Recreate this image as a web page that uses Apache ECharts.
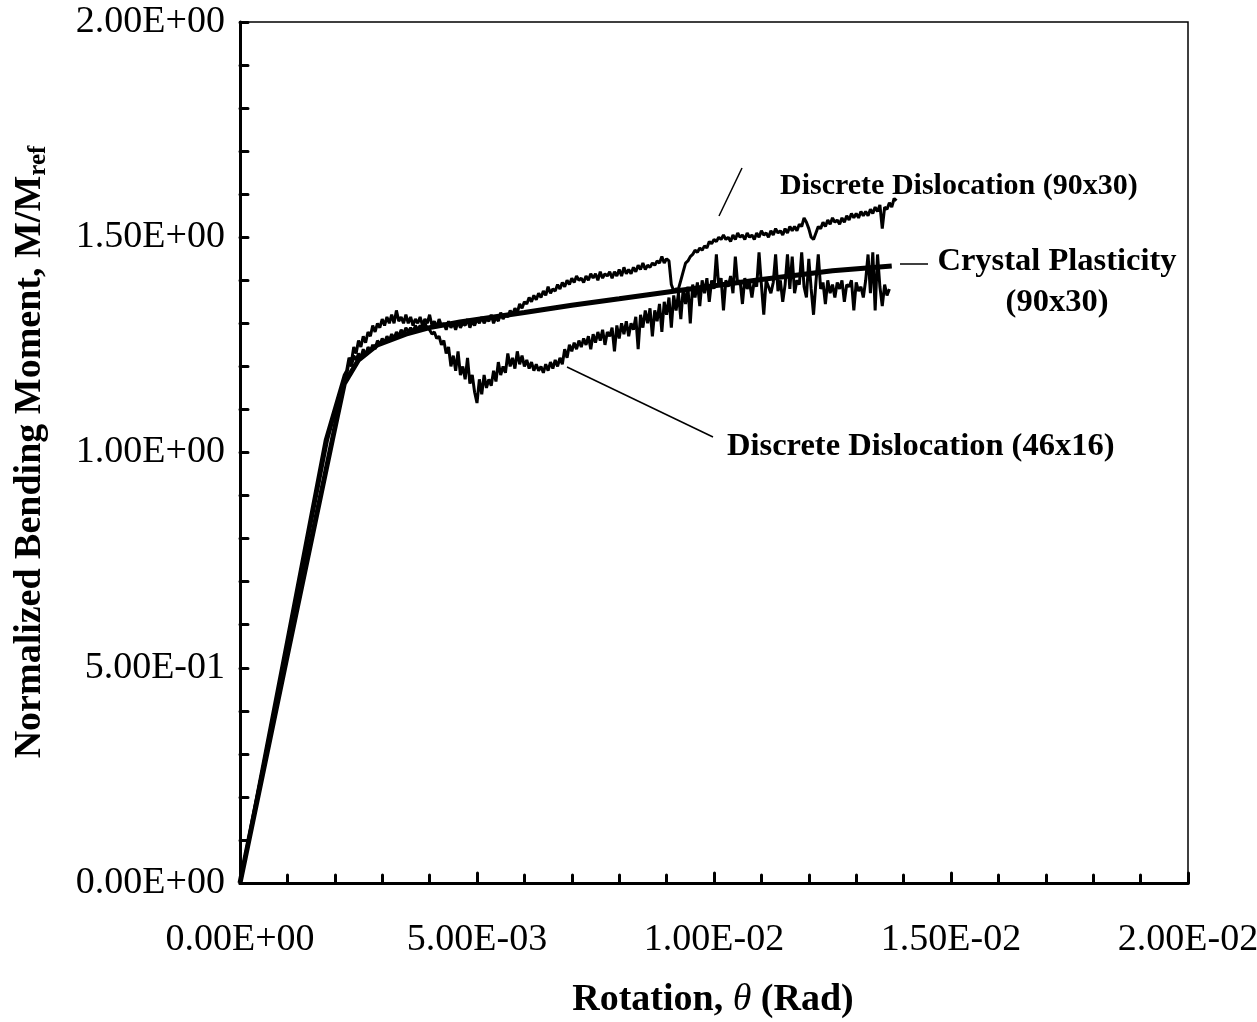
<!DOCTYPE html>
<html>
<head>
<meta charset="utf-8">
<script src="https://cdn.jsdelivr.net/npm/echarts@6/dist/echarts.min.js"></script>
<style>html,body{margin:0;padding:0;background:#fff}#c{width:1257px;height:1022px}</style>
</head>
<body>
<div id="c"></div>
<script>
// x values in mrad (1e-3 rad); axis labels show rad
const xTicks = [0, 5, 10, 15, 20];
const yTicks = [0, 0.5, 1.0, 1.5, 2.0];

// Crystal plasticity (90x30)
const cpTheta = [0, 1.0, 1.95, 2.2, 2.5, 2.9, 3.5, 4.0, 4.64, 6.0, 7.0, 8.0, 9.3, 11.0, 12.5, 13.75];
const cpMoment = [0, 0.53, 1.03, 1.16, 1.215, 1.25, 1.275, 1.29, 1.303, 1.325, 1.342, 1.357, 1.377, 1.402, 1.422, 1.433];

// elastic part of the two discrete dislocation runs
const dd90ElasticTheta = [0, 1.0, 1.8, 2.2];
const dd90ElasticMoment = [0, 0.57, 1.03, 1.18];
const dd46ElasticTheta = [0, 1.0, 1.85, 2.2];
const dd46ElasticMoment = [0, 0.555, 1.03, 1.17];

// sample positions for the noisy parts (mrad), step 0.05 from 2.25
const ddStart = 2.25, ddStep = 0.05;

// Discrete Dislocation (90x30)
const dd90 = [
1.19,1.22,1.21,1.245,1.23,1.26,1.245,1.27,1.255,1.28,
1.27,1.295,1.28,1.30,1.29,1.31,1.295,1.315,1.30,1.32,
1.30,1.33,1.305,1.315,1.30,1.32,1.30,1.315,1.295,1.31,
1.30,1.315,1.295,1.31,1.30,1.32,1.295,1.305,1.29,1.31,
1.295,1.30,1.285,1.305,1.29,1.30,1.285,1.305,1.29,1.30,
1.295,1.31,1.29,1.305,1.295,1.31,1.30,1.315,1.30,1.31,
1.305,1.32,1.30,1.315,1.305,1.325,1.31,1.32,1.315,1.33,
1.32,1.335,1.325,1.345,1.335,1.35,1.345,1.36,1.35,1.365,
1.355,1.37,1.36,1.375,1.365,1.385,1.37,1.38,1.375,1.39,
1.38,1.395,1.385,1.40,1.39,1.405,1.395,1.41,1.40,1.405,
1.395,1.41,1.40,1.415,1.405,1.415,1.40,1.42,1.405,1.415,
1.41,1.42,1.405,1.42,1.41,1.425,1.41,1.43,1.415,1.425,
1.415,1.43,1.42,1.435,1.425,1.44,1.425,1.435,1.43,1.44,
1.435,1.445,1.44,1.455,1.44,1.45,1.445,1.39,1.375,1.38,
1.38,1.40,1.42,1.44,1.445,1.455,1.46,1.47,1.465,1.475,
1.47,1.48,1.475,1.49,1.485,1.495,1.49,1.50,1.495,1.505,
1.495,1.50,1.49,1.505,1.495,1.51,1.50,1.505,1.495,1.51,
1.50,1.505,1.495,1.51,1.50,1.515,1.505,1.51,1.50,1.515,
1.505,1.52,1.51,1.515,1.505,1.52,1.51,1.525,1.515,1.525,
1.515,1.53,1.525,1.545,1.535,1.52,1.50,1.495,1.51,1.525,
1.52,1.535,1.525,1.54,1.53,1.545,1.535,1.54,1.53,1.545,
1.535,1.55,1.54,1.555,1.545,1.555,1.545,1.56,1.55,1.56,
1.55,1.565,1.555,1.57,1.56,1.575,1.52,1.57,1.565,1.58,
1.57,1.59,1.585
];

// Discrete Dislocation (46x16)
const dd46 = [
1.18,1.21,1.20,1.225,1.215,1.23,1.22,1.24,1.225,1.245,
1.235,1.25,1.24,1.26,1.25,1.265,1.255,1.27,1.26,1.275,
1.265,1.28,1.27,1.285,1.275,1.29,1.28,1.29,1.28,1.295,
1.285,1.295,1.285,1.30,1.29,1.285,1.275,1.28,1.265,1.27,
1.25,1.26,1.23,1.245,1.20,1.225,1.19,1.235,1.18,1.20,
1.17,1.22,1.16,1.18,1.14,1.115,1.17,1.135,1.18,1.15,
1.17,1.155,1.19,1.165,1.21,1.18,1.20,1.185,1.23,1.20,
1.22,1.195,1.235,1.205,1.225,1.20,1.215,1.195,1.21,1.19,
1.205,1.19,1.20,1.185,1.205,1.19,1.21,1.195,1.215,1.20,
1.22,1.205,1.24,1.22,1.25,1.235,1.255,1.24,1.26,1.245,
1.265,1.25,1.27,1.24,1.275,1.255,1.28,1.26,1.285,1.25,
1.28,1.27,1.29,1.235,1.295,1.265,1.30,1.275,1.305,1.27,
1.30,1.285,1.315,1.24,1.32,1.29,1.33,1.30,1.335,1.27,
1.33,1.305,1.345,1.28,1.35,1.32,1.36,1.29,1.365,1.33,
1.37,1.31,1.38,1.345,1.385,1.30,1.39,1.36,1.395,1.34,
1.40,1.37,1.405,1.35,1.40,1.38,1.46,1.385,1.405,1.33,
1.40,1.385,1.41,1.37,1.455,1.39,1.40,1.345,1.405,1.38,
1.395,1.36,1.40,1.385,1.465,1.39,1.32,1.40,1.385,1.37,
1.395,1.46,1.375,1.40,1.35,1.39,1.46,1.38,1.455,1.37,
1.40,1.39,1.465,1.385,1.36,1.45,1.38,1.32,1.395,1.46,
1.38,1.395,1.345,1.40,1.37,1.39,1.36,1.395,1.38,1.40,
1.35,1.39,1.385,1.40,1.33,1.395,1.375,1.385,1.36,1.40,
1.46,1.37,1.465,1.33,1.46,1.385,1.34,1.39,1.365,1.38
];

function pairs(xs, ys) { return xs.map((x, i) => [x, ys[i]]); }
function ddSeries(ex, ey, vals) {
  const pts = pairs(ex, ey);
  vals.forEach((v, i) => pts.push([+(ddStart + i * ddStep).toFixed(2), v]));
  return pts;
}
function sci(r) {
  if (Math.abs(r) < 1e-12) return '0.00E+00';
  let e = Math.floor(Math.log10(Math.abs(r)) + 1e-9);
  let m = r / Math.pow(10, e);
  return m.toFixed(2) + 'E' + (e < 0 ? '-' : '+') + String(Math.abs(e)).padStart(2, '0');
}

const FONT = '"Liberation Serif", "Times New Roman", serif';
const chart = echarts.init(document.getElementById('c'), null, {renderer: 'canvas'});
chart.setOption({
  animation: false,
  backgroundColor: '#fff',
  grid: {left: 240, top: 22, right: 69, bottom: 139, containLabel: false, outerBoundsMode: 'none',
         show: true, borderColor: '#000', borderWidth: 1.5},
  xAxis: {
    type: 'value', min: xTicks[0], max: xTicks[xTicks.length - 1], interval: 5,
    axisLine: {lineStyle: {color: '#000', width: 3}},
    axisTick: {inside: true, length: 10, lineStyle: {color: '#000', width: 3, cap: 'round'}},
    minorTick: {show: true, splitNumber: 5, length: 8, lineStyle: {color: '#000', width: 3, cap: 'round'}},
    splitLine: {show: false},
    axisLabel: {margin: 38, color: '#000', fontFamily: FONT, fontSize: 38, formatter: v => sci(v / 1000)}
  },
  yAxis: {
    type: 'value', min: yTicks[0], max: yTicks[yTicks.length - 1], interval: 0.5,
    axisLine: {lineStyle: {color: '#000', width: 3}},
    axisTick: {inside: true, length: 8, lineStyle: {color: '#000', width: 3, cap: 'round'}},
    minorTick: {show: true, splitNumber: 5, length: 8, lineStyle: {color: '#000', width: 3, cap: 'round'}},
    splitLine: {show: false},
    axisLabel: {margin: 15, color: '#000', fontFamily: FONT, fontSize: 38, formatter: v => sci(v)}
  },
  series: [
    {name: 'Discrete Dislocation (90x30)', type: 'line', showSymbol: false, data: ddSeries(dd90ElasticTheta, dd90ElasticMoment, dd90),
     lineStyle: {color: '#000', width: 3}, z: 3},
    {name: 'Discrete Dislocation (46x16)', type: 'line', showSymbol: false, data: ddSeries(dd46ElasticTheta, dd46ElasticMoment, dd46),
     lineStyle: {color: '#000', width: 3}, z: 3},
    {name: 'Crystal Plasticity (90x30)', type: 'line', showSymbol: false, data: pairs(cpTheta, cpMoment),
     lineStyle: {color: '#000', width: 5}, z: 4}
  ],
  graphic: [
    {type: 'line', shape: {x1: 742, y1: 168, x2: 719, y2: 216}, style: {stroke: '#000', lineWidth: 1.5}},
    {type: 'line', shape: {x1: 900, y1: 264, x2: 928, y2: 264}, style: {stroke: '#000', lineWidth: 1.5}},
    {type: 'line', shape: {x1: 567, y1: 367, x2: 713, y2: 437}, style: {stroke: '#000', lineWidth: 1.5}},
    {type: 'text', x: 780, y: 186, style: {text: 'Discrete Dislocation (90x30)', font: 'bold 30px ' + FONT, fill: '#000', textAlign: 'left', textVerticalAlign: 'middle'}},
    {type: 'text', x: 1057, y: 262, style: {text: 'Crystal Plasticity', font: 'bold 32.5px ' + FONT, fill: '#000', textAlign: 'center', textVerticalAlign: 'middle'}},
    {type: 'text', x: 1057, y: 303, style: {text: '(90x30)', font: 'bold 32.5px ' + FONT, fill: '#000', textAlign: 'center', textVerticalAlign: 'middle'}},
    {type: 'text', x: 727, y: 447, style: {text: 'Discrete Dislocation (46x16)', font: 'bold 32.5px ' + FONT, fill: '#000', textAlign: 'left', textVerticalAlign: 'middle'}},
    {type: 'text', x: 713, y: 1000, style: {
      text: '{a|Rotation, }{t|θ}{a| (Rad)}', textAlign: 'center', textVerticalAlign: 'middle',
      rich: {a: {fontFamily: FONT, fontWeight: 'bold', fontSize: 38, fill: '#000'},
             t: {fontFamily: FONT, fontStyle: 'italic', fontSize: 38, fill: '#000'}}}},
    {type: 'text', x: 30, y: 452, rotation: Math.PI / 2, style: {
      text: '{a|Normalized Bending Moment, M/M}{s|ref}', textAlign: 'center', textVerticalAlign: 'middle',
      rich: {a: {fontFamily: FONT, fontWeight: 'bold', fontSize: 38, fill: '#000', lineHeight: 42},
             s: {fontFamily: FONT, fontWeight: 'bold', fontSize: 25, fill: '#000', padding: [17, 0, 0, 0], lineHeight: 42}}}}
  ]
});
</script>
</body>
</html>
